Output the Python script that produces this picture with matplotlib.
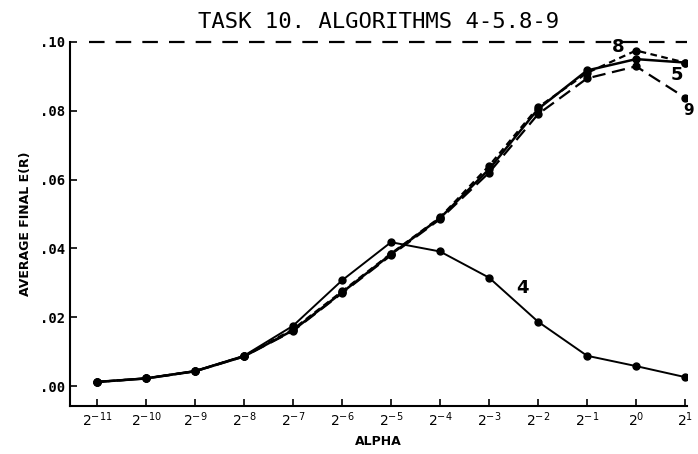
import numpy as np
import matplotlib
matplotlib.use("Agg")
import matplotlib.pyplot as plt

# alpha = 2^-11 ... 2^1
exps = list(range(-11, 2))
xlabels = [r"$2^{%d}$" % e for e in exps]

err4 = [0.0012, 0.0023, 0.0044, 0.0088, 0.0175, 0.0307, 0.0418, 0.0391, 0.0315, 0.0187, 0.0088, 0.0058, 0.0026]
err5 = [0.0012, 0.0022, 0.0043, 0.0086, 0.0162, 0.0272, 0.0383, 0.0488, 0.0630, 0.0805, 0.0917, 0.0950, 0.0940]
err8 = [0.0012, 0.0022, 0.0043, 0.0087, 0.0165, 0.0275, 0.0385, 0.0490, 0.0640, 0.0810, 0.0910, 0.0975, 0.0940]
err9 = [0.0012, 0.0022, 0.0043, 0.0086, 0.0160, 0.0270, 0.0380, 0.0485, 0.0620, 0.0790, 0.0894, 0.0929, 0.0838]
upper = 0.10

yticks = [0.00, 0.02, 0.04, 0.06, 0.08, 0.10]
ylabels = [".00", ".02", ".04", ".06", ".08", ".10"]

plt.rcParams['font.family'] = ['DejaVu Sans']

fig = plt.figure(figsize=(6.98, 4.54), dpi=100)
ax = fig.add_axes([0.1003, 0.1057, 0.884, 0.802])

x = np.arange(len(exps))
ax.plot(x, err4, color='black', lw=1.4, marker='o', ms=5)
ax.plot(x, err5, color='black', lw=1.8, marker='o', ms=5)
ax.plot(x, err8, color='black', lw=1.6, ls=(0, (3, 2)), marker='o', ms=5)
ax.plot(x, err9, color='black', lw=1.6, ls=(0, (6, 3)), marker='o', ms=5)
ax.axhline(upper, color='black', lw=1.6, ls=(0, (7, 5)), xmin=0.03, clip_on=False)

ax.text(8.55, 0.0285, "4", fontsize=13, fontweight='bold', ha='left', va='center')
ax.text(10.5, 0.0985, "8", fontsize=13, fontweight='bold', ha='left', va='center')
ax.text(11.7, 0.0905, "5", fontsize=13, fontweight='bold', ha='left', va='center')
ax.text(11.97, 0.0800, "9", fontsize=11, fontweight='bold', ha='left', va='center', clip_on=False)

ax.set_xlim(-0.55, 12.04)
ax.set_ylim(-0.0058, 0.10)
ax.set_xticks(x)
ax.set_xticklabels(xlabels, fontsize=10)
ax.set_yticks(yticks)
ax.set_yticklabels(ylabels, fontsize=10, fontfamily='DejaVu Sans Mono', fontweight='bold')
ax.tick_params(direction='in', length=5, width=1.2)
for s in ['top', 'right']:
    ax.spines[s].set_visible(False)
for s in ['left', 'bottom']:
    ax.spines[s].set_linewidth(1.5)

ax.set_title("TASK 10. ALGORITHMS 4-5.8-9", fontsize=16, fontfamily='DejaVu Sans Mono', pad=10)
ax.set_xlabel("ALPHA", fontsize=9, fontweight='bold')
ax.set_ylabel("AVERAGE FINAL E(R)", fontsize=9, fontweight='bold', labelpad=6)

fig.savefig("out.png", dpi=100)
